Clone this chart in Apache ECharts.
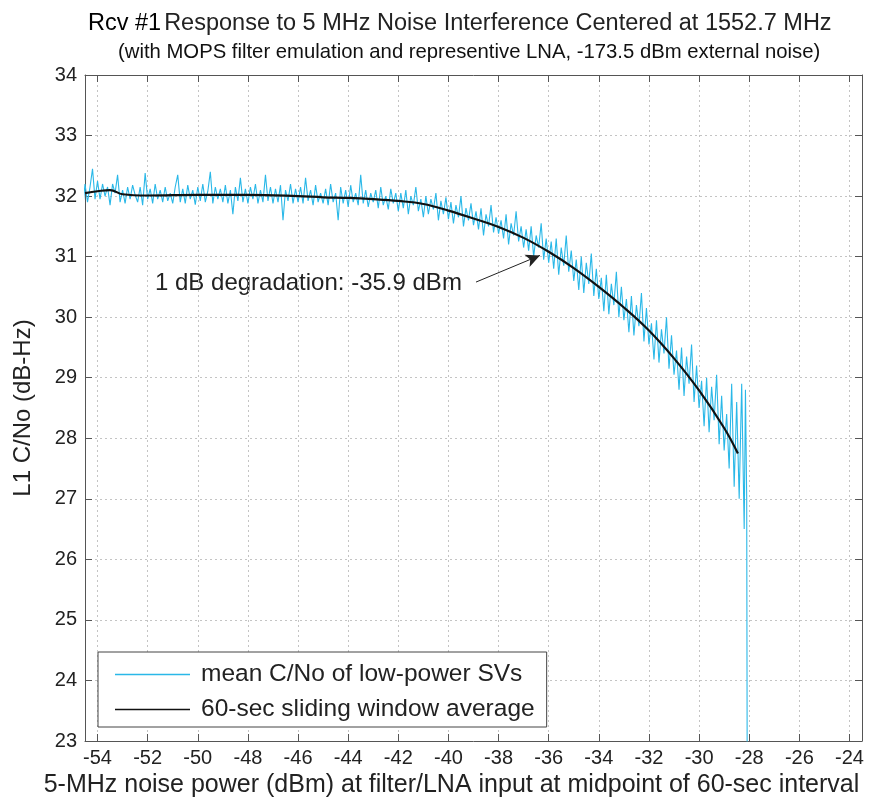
<!DOCTYPE html>
<html>
<head>
<meta charset="utf-8">
<script src="https://cdn.jsdelivr.net/npm/echarts@6/dist/echarts.min.js"></script>
<style>
html, body { margin: 0; padding: 0; background: #fff; }
#chart { width: 878px; height: 808px; }
</style>
</head>
<body>
<div id="chart"></div>
<script>
// raw C/No samples, one every 0.1 dB of noise power starting at -54.6 dBm
var noiseStart = -54.6;
var noiseStep = 0.1;
var noiseVals = [
	31.75, 32.2, 31.9, 32.15, 32.45, 31.95, 32.25,
	31.95, 32.2, 32.0, 32.15, 31.85, 32.2, 32.05, 32.35, 31.9, 32.1,
	31.88, 32.15, 31.95, 32.18, 32.02, 31.9, 32.15, 31.85, 32.38, 31.95,
	32.12, 31.88, 32.2, 31.95, 32.1, 31.9, 32.15, 31.92, 32.05, 31.88,
	32.15, 32.35, 31.9, 32.12, 31.88, 32.18, 31.95, 32.1, 31.86, 32.15,
	31.92, 32.2, 31.9, 32.08, 32.4, 31.88, 32.15, 31.95, 32.12, 31.9,
	32.18, 31.88, 32.1, 31.7, 32.15, 31.92, 32.3, 31.9, 32.12, 31.88,
	32.15, 31.95, 32.2, 31.88, 32.1, 31.9, 32.35, 31.92, 32.15, 31.88,
	32.12, 31.9, 32.18, 31.6, 32.1, 31.92, 32.2, 31.88, 32.12, 31.9,
	32.15, 31.88, 32.3, 31.92, 32.1, 31.85, 32.18, 31.9, 32.05, 31.88,
	32.12, 31.85, 32.2, 31.9, 32.05, 31.6, 32.15, 31.88, 32.1, 31.82,
	32.18, 31.9, 32.05, 31.85, 32.35, 31.88, 32.1, 31.82, 32.05, 31.9,
	32.1, 31.8, 32.15, 31.85, 32.0, 31.78, 32.12, 31.88, 32.05, 31.75,
	32.05, 31.8, 32.1, 31.7, 32.0, 31.85, 32.15, 31.75, 31.95, 31.65,
	32.0, 31.7, 31.95, 31.78, 32.05, 31.6, 31.92, 31.7, 31.98, 31.62,
	31.9, 31.55, 31.85, 31.65, 32.0, 31.5, 31.8, 31.6, 31.88, 31.52,
	31.75, 31.45, 31.8, 31.35, 31.7, 31.5, 31.85, 31.4, 31.65, 31.38,
	31.6, 31.3, 31.7, 31.2, 31.55, 31.35, 31.75, 31.25, 31.5, 31.15,
	31.45, 31.1, 31.5, 31.0, 31.35, 31.15, 31.55, 30.95, 31.3, 30.9,
	31.25, 30.8, 31.3, 30.7, 31.15, 30.85, 31.35, 30.75, 31.1, 30.6,
	30.95, 30.45, 31.0, 30.4, 30.9, 30.55, 31.05, 30.35, 30.8, 30.3,
	30.65, 30.1, 30.7, 30.05, 30.55, 30.2, 30.75, 30.0, 30.5, 29.95,
	30.3, 29.75, 30.35, 29.7, 30.2, 29.85, 30.4, 29.6, 30.15, 29.55,
	29.9, 29.3, 29.95, 29.25, 29.8, 29.4, 30.0, 29.15, 29.7, 29.05,
	29.45, 28.8, 29.5, 28.7, 29.35, 28.9, 29.55, 28.6, 29.2, 28.5,
	28.95, 28.2, 29.0, 28.1, 28.85, 28.3, 29.05, 27.9, 28.7, 27.8,
	28.4, 27.5, 28.9, 27.2, 28.6, 27.0, 28.9, 26.5
];
// last samples where the receiver loses lock
var tailX = [-28.15, -28.1, -28.08];
var tailY = [28.8, 27.0, 22.5];

// 60-sec sliding window average
var avgX = [-54.5, -54.0, -53.5, -53.0, -52.0, -50.0, -48.0, -46.0, -45.0, -44.0,
	-43.0, -42.0, -41.0, -40.0, -39.0, -38.0, -37.0, -36.0, -35.0, -34.0,
	-33.0, -32.0, -31.0, -30.0, -29.0, -28.45];
var avgY = [32.05, 32.08, 32.1, 32.03, 32.01, 32.02, 32.02, 32.0, 31.98, 31.97,
	31.95, 31.92, 31.87, 31.76, 31.63, 31.49, 31.31, 31.08, 30.81, 30.5,
	30.16, 29.78, 29.32, 28.79, 28.17, 27.75];

var xTicks = [-54, -52, -50, -48, -46, -44, -42, -40, -38, -36, -34, -32, -30, -28, -26, -24];

// arrow of the 1 dB annotation (data coords)
var arrowFrom = [-38.9, 30.58];
var arrowTo = [-36.35, 31.02];

var FONT = 'Liberation Sans, Arial, sans-serif';

var noiseData = [];
for (var i = 0; i < noiseVals.length; i++) {
	noiseData.push([noiseStart + i * noiseStep, noiseVals[i]]);
}
for (var j = 0; j < tailX.length; j++) {
	noiseData.push([tailX[j], tailY[j]]);
}
var avgData = [];
for (var k = 0; k < avgX.length; k++) {
	avgData.push([avgX[k], avgY[k]]);
}

var myChart = echarts.init(document.getElementById('chart'));

var axisColor = '#555';
var gridLine = {
	show: true,
	lineStyle: { color: '#c4c4c4', type: [2, 3], width: 1 }
};
var lineIcon = 'path://M0,0H100V2H0Z';

var option = {
	animation: false,
	backgroundColor: '#fff',
	title: [{
		text: '{a|Rcv #1}{b|Response to 5 MHz Noise Interference Centered at 1552.7 MHz}',
		left: 83,
		top: 7,
		textStyle: {
			fontWeight: 'normal',
			rich: {
				a: { fontFamily: FONT, fontSize: 23.5, fontWeight: 'normal', color: '#000', padding: [0, 3, 0, 0] },
				b: { fontFamily: FONT, fontSize: 23.5, fontWeight: 'normal', color: '#222' }
			}
		}
	}, {
		text: '(with MOPS filter emulation and representive LNA, -173.5 dBm external noise)',
		left: 113,
		top: 37,
		textStyle: { fontFamily: FONT, fontSize: 20.3, fontWeight: 'normal', color: '#111' }
	}],
	grid: {
		left: 85,
		right: 16,
		top: 75,
		bottom: 67,
		containLabel: false
	},
	legend: {
		orient: 'vertical',
		left: 98,
		top: 652,
		backgroundColor: '#fff',
		borderColor: '#444',
		borderWidth: 1,
		padding: [10, 12, 5, 17],
		itemWidth: 75,
		itemHeight: 2,
		itemGap: 10,
		textStyle: { fontFamily: FONT, fontSize: 24.5, color: '#222', padding: [0, 0, 0, 6] },
		data: [
			{ name: 'mean C/No of low-power SVs', icon: lineIcon },
			{ name: '60-sec sliding window average', icon: lineIcon }
		]
	},
	xAxis: [{
		type: 'value',
		min: -54.5,
		max: -23.5,
		position: 'bottom',
		name: '5-MHz noise power (dBm) at filter/LNA input at midpoint of 60-sec interval',
		nameLocation: 'middle',
		nameGap: 31,
		nameTextStyle: { fontFamily: FONT, fontSize: 25, color: '#222', padding: [0, 44, 0, 0] },
		axisLine: { show: true, onZero: false, lineStyle: { color: axisColor } },
		axisTick: { show: true, inside: true, length: 7, customValues: xTicks, lineStyle: { color: axisColor } },
		axisLabel: { customValues: xTicks, fontFamily: FONT, fontSize: 20, color: '#222', margin: 7 },
		splitLine: gridLine
	}, {
		type: 'value',
		min: -54.5,
		max: -23.5,
		position: 'top',
		axisLine: { show: true, onZero: false, lineStyle: { color: axisColor } },
		axisTick: { show: true, inside: true, length: 7, customValues: xTicks, lineStyle: { color: axisColor } },
		axisLabel: { show: false },
		splitLine: { show: false }
	}],
	yAxis: [{
		type: 'value',
		min: 23,
		max: 34,
		interval: 1,
		position: 'left',
		name: 'L1 C/No (dB-Hz)',
		nameLocation: 'middle',
		nameGap: 50,
		nameTextStyle: { fontFamily: FONT, fontSize: 24, color: '#222' },
		axisLine: { show: true, onZero: false, lineStyle: { color: axisColor } },
		axisTick: { show: true, inside: true, length: 7, lineStyle: { color: axisColor } },
		axisLabel: { fontFamily: FONT, fontSize: 20, color: '#222', margin: 8 },
		splitLine: gridLine
	}, {
		type: 'value',
		min: 23,
		max: 34,
		interval: 1,
		position: 'right',
		axisLine: { show: true, onZero: false, lineStyle: { color: axisColor } },
		axisTick: { show: true, inside: true, length: 7, lineStyle: { color: axisColor } },
		axisLabel: { show: false },
		splitLine: { show: false }
	}],
	series: [{
		name: 'mean C/No of low-power SVs',
		type: 'line',
		data: noiseData,
		showSymbol: false,
		symbol: 'none',
		clip: true,
		color: '#2ab8e8',
		lineStyle: { color: '#2ab8e8', width: 1.1 },
		z: 2
	}, {
		name: '60-sec sliding window average',
		type: 'line',
		data: avgData,
		showSymbol: false,
		symbol: 'none',
		smooth: 0.4,
		color: '#111',
		lineStyle: { color: '#111', width: 2.2 },
		z: 3,
		markLine: {
			silent: true,
			symbol: ['none', 'arrow'],
			symbolSize: [10, 14],
			label: { show: false },
			lineStyle: { color: '#222', width: 1, type: 'solid' },
			data: [[{ coord: arrowFrom }, { coord: arrowTo }]]
		}
	}],
	graphic: [{
		type: 'text',
		left: 155,
		top: 271,
		style: {
			text: '1 dB degradation: -35.9 dBm',
			fontFamily: FONT,
			fontSize: 24,
			fill: '#222'
		}
	}]
};

myChart.setOption(option);
</script>
</body>
</html>
